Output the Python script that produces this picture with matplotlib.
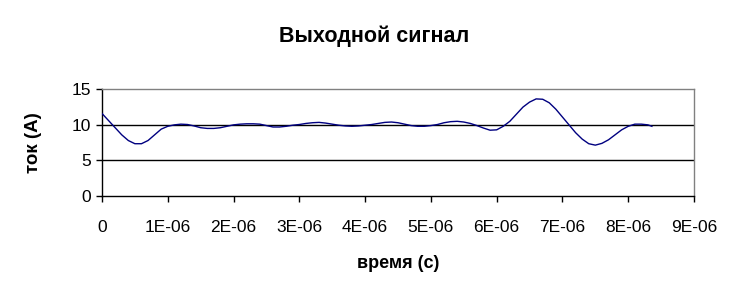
import matplotlib
matplotlib.use("Agg")
import matplotlib.pyplot as plt
import numpy as np

plt.rcParams['font.family'] = ['Liberation Sans', 'DejaVu Sans']

# time, microseconds (scaled to seconds below)
t_us = [0.0, 0.1, 0.2, 0.3, 0.4, 0.5, 0.6, 0.7, 0.8, 0.9,
        1.0, 1.1, 1.2, 1.3, 1.4, 1.5, 1.6, 1.7, 1.8, 1.9,
        2.0, 2.1, 2.2, 2.3, 2.4, 2.5, 2.6, 2.7, 2.8, 2.9,
        3.0, 3.1, 3.2, 3.3, 3.4, 3.5, 3.6, 3.7, 3.8, 3.9,
        4.0, 4.1, 4.2, 4.3, 4.4, 4.5, 4.6, 4.7, 4.8, 4.9,
        5.0, 5.1, 5.2, 5.3, 5.4, 5.5, 5.6, 5.7, 5.8, 5.9,
        6.0, 6.1, 6.2, 6.3, 6.4, 6.5, 6.6, 6.7, 6.8, 6.9,
        7.0, 7.1, 7.2, 7.3, 7.4, 7.5, 7.6, 7.7, 7.8, 7.9,
        8.0, 8.1, 8.2, 8.3, 8.36]
current = [11.6, 10.6, 9.6, 8.6, 7.8, 7.35, 7.35, 7.8, 8.6, 9.4,
           9.8, 10.0, 10.1, 10.05, 9.85, 9.6, 9.5, 9.5, 9.6, 9.8,
           10.0, 10.1, 10.15, 10.15, 10.1, 9.9, 9.7, 9.7, 9.8, 9.95,
           10.05, 10.2, 10.3, 10.35, 10.25, 10.1, 9.95, 9.85, 9.8, 9.85,
           9.95, 10.05, 10.2, 10.35, 10.4, 10.3, 10.1, 9.9, 9.8, 9.8,
           9.9, 10.05, 10.3, 10.45, 10.5, 10.4, 10.2, 9.9, 9.55, 9.25,
           9.3, 9.8, 10.5, 11.5, 12.5, 13.2, 13.65, 13.6, 13.1, 12.2,
           11.1, 10.0, 8.9, 8.0, 7.35, 7.15, 7.4, 7.9, 8.6, 9.3,
           9.8, 10.1, 10.1, 10.0, 9.8]

x_ticks = [0, 1e-6, 2e-6, 3e-6, 4e-6, 5e-6, 6e-6, 7e-6, 8e-6, 9e-6]
x_labels = ['0', '1E-06', '2E-06', '3E-06', '4E-06', '5E-06',
            '6E-06', '7E-06', '8E-06', '9E-06']
y_ticks = [0, 5, 10, 15]

t = np.array(t_us) * 1e-6

fig = plt.figure(figsize=(7.45, 2.93), dpi=100)
ax = fig.add_axes([102/745, 1 - 196/293, (694 - 102)/745, (196 - 89.3)/293])

for yv in y_ticks[1:-1]:
    ax.axhline(yv, color='black', lw=1.0, zorder=1)
ax.plot(t, current, color='#000080', lw=1.0, zorder=3)

ax.set_xlim(0, 9e-6)
ax.set_ylim(0, 15)
ax.set_xticks(x_ticks)
ax.set_xticklabels(x_labels)
ax.set_yticks(y_ticks)
ax.tick_params(axis='both', direction='out', length=4, width=1,
               color='black', labelsize=12.5)
ax.tick_params(axis='x', pad=13)
ax.tick_params(axis='y', pad=4)

ax.spines['left'].set_color('black')
ax.spines['bottom'].set_color('black')
ax.spines['top'].set_color('#808080')
ax.spines['right'].set_color('#808080')
for s in ax.spines.values():
    s.set_linewidth(1.0)

ax.set_xlabel('время (с)', fontsize=13, fontweight='bold', labelpad=15)
fig.text(33/745, 1 - 143/293, 'ток (А)', rotation=90, fontsize=13.5,
         fontweight='bold', ha='center', va='center')
fig.text(374/745, 1 - 36/293, 'Выходной сигнал', fontsize=15.5,
         fontweight='bold', ha='center', va='center')

fig.savefig('out.png', dpi=100, facecolor='white')
